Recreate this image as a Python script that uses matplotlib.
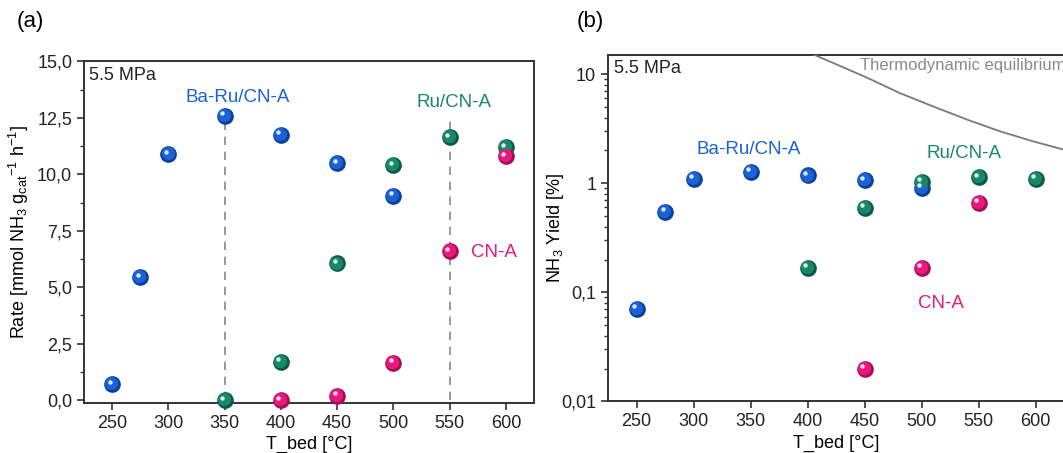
import matplotlib
matplotlib.use('Agg')
import matplotlib.pyplot as plt
import matplotlib.transforms as mtransforms
from matplotlib.ticker import MultipleLocator, FuncFormatter, LogLocator, FixedLocator

plt.rcParams['font.family'] = ['Liberation Sans', 'DejaVu Sans']
plt.rcParams['mathtext.fontset'] = 'custom'
plt.rcParams['mathtext.rm'] = 'Liberation Sans'
plt.rcParams['mathtext.it'] = 'Liberation Sans'

# (a) rate, mmol NH3 / g_cat / h
T_baru = [250, 275, 300, 350, 400, 450, 500]
rate_baru = [0.7, 5.45, 10.9, 12.6, 11.75, 10.5, 9.05]
T_ru = [350, 400, 450, 500, 550, 600]
rate_ru = [0.0, 1.7, 6.05, 10.4, 11.65, 11.2]
T_cn = [400, 450, 500, 550, 600]
rate_cn = [0.0, 0.2, 1.65, 6.6, 10.8]

# (b) NH3 yield, %
yT_baru = [250, 275, 300, 350, 400, 450, 500]
yield_baru = [0.071, 0.55, 1.10, 1.27, 1.18, 1.07, 0.91]
yT_ru = [400, 450, 500, 550, 600]
yield_ru = [0.168, 0.594, 1.03, 1.14, 1.10]
yT_cn = [450, 500, 550]
yield_cn = [0.020, 0.168, 0.665]

# thermodynamic equilibrium curve
T_eq = [400, 410, 423, 452, 481, 510, 540, 569, 598, 625]
yield_eq = [16.0, 14.4, 12.6, 9.3, 6.7, 5.07, 3.83, 2.99, 2.42, 2.03]

BLUE = '#1a62d6'
GREEN = '#17896a'
PINK = '#e8187c'
AX_COL = '#333333'

fig = plt.figure(figsize=(10.63, 4.53), dpi=100)
ax1 = fig.add_axes([0.079, 0.1104, 0.4233, 0.7539])
ax2 = fig.add_axes([0.572, 0.1137, 0.429, 0.765])


def balls(ax, x, y, col, dark):
    # shaded "sphere" markers
    ax.plot(x, y, 'o', ms=12, mfc=dark, mec='none', zorder=5, clip_on=False)
    off = mtransforms.ScaledTranslation(-0.6 / 72, 0.6 / 72, fig.dpi_scale_trans)
    ax.plot(x, y, 'o', ms=9.5, mfc=col, mec='none', zorder=6, clip_on=False,
            transform=ax.transData + off)
    off2 = mtransforms.ScaledTranslation(-1.8 / 72, 1.8 / 72, fig.dpi_scale_trans)
    ax.plot(x, y, 'o', ms=3.2, mfc='white', mec='none', alpha=0.85, zorder=7,
            clip_on=False, transform=ax.transData + off2)


def style(ax):
    for s in ax.spines.values():
        s.set_color(AX_COL)
        s.set_linewidth(1.4)
    ax.tick_params(axis='both', which='both', direction='out', colors=AX_COL,
                   labelcolor='#222222', labelsize=13, top=False, right=False)
    ax.tick_params(which='major', length=5, width=1.2)
    ax.tick_params(which='minor', length=3, width=1.0)
    ax.set_xlim(225, 625)
    ax.xaxis.set_major_locator(FixedLocator([250, 300, 350, 400, 450, 500, 550, 600]))
    ax.set_xlabel('T_bed [°C]', fontsize=13, labelpad=3)


# ---- (a)
style(ax1)
ax1.set_ylim(-0.13, 15)
ax1.yaxis.set_major_locator(MultipleLocator(2.5))
ax1.yaxis.set_minor_locator(MultipleLocator(1.25))
ax1.yaxis.set_major_formatter(FuncFormatter(lambda v, p: ('%.1f' % v).replace('.', ',')))
ax1.set_ylabel('Rate [mmol NH$_3$ g$_{cat}$$^{-1}$ h$^{-1}$]', fontsize=13)
ax1.yaxis.set_label_coords(-0.118, 0.5)

ax1.plot([350, 350], [0, 12.6], ls=(0, (5, 4)), color='#888888', lw=1.2, zorder=2)
ax1.plot([550, 550], [0, 12.5], ls=(0, (5, 4)), color='#888888', lw=1.2, zorder=2)

balls(ax1, T_baru, rate_baru, BLUE, '#0b3f9c')
balls(ax1, T_ru, rate_ru, GREEN, '#0b5a44')
balls(ax1, T_cn, rate_cn, PINK, '#a80d58')

ax1.text(0.012, 0.985, '5.5 MPa', transform=ax1.transAxes, ha='left', va='top',
         fontsize=13, color='#222222')
ax1.text(362, 13.4, 'Ba-Ru/CN-A', color=BLUE, fontsize=13.5, ha='center', va='center')
ax1.text(554, 13.2, 'Ru/CN-A', color=GREEN, fontsize=13.5, ha='center', va='center')
ax1.text(589, 6.55, 'CN-A', color=PINK, fontsize=13.5, ha='center', va='center')

# ---- (b)
style(ax2)
ax2.set_yscale('log')
ax2.set_ylim(0.01, 15)
ax2.yaxis.set_major_locator(FixedLocator([0.01, 0.1, 1, 10]))
ax2.yaxis.set_minor_locator(LogLocator(base=10, subs=range(2, 10)))
ax2.yaxis.set_major_formatter(FuncFormatter(
    lambda v, p: {0.01: '0,01', 0.1: '0,1', 1: '1', 10: '10'}.get(round(v, 2), '')))
ax2.yaxis.set_minor_formatter(FuncFormatter(lambda v, p: ''))
ax2.set_ylabel('NH$_3$ Yield [%]', fontsize=13)
ax2.yaxis.set_label_coords(-0.092, 0.5)

ax2.plot(T_eq, yield_eq, color='#7a7a7a', lw=1.3, zorder=3)
ax2.text(446, 11.9, 'Thermodynamic equilibrium', color='#8a8a8a', fontsize=12,
         ha='left', va='center', clip_on=False)

balls(ax2, yT_baru, yield_baru, BLUE, '#0b3f9c')
balls(ax2, yT_ru, yield_ru, GREEN, '#0b5a44')
balls(ax2, yT_cn, yield_cn, PINK, '#a80d58')

ax2.text(0.012, 0.985, '5.5 MPa', transform=ax2.transAxes, ha='left', va='top',
         fontsize=13, color='#222222')
ax2.text(348, 2.02, 'Ba-Ru/CN-A', color=BLUE, fontsize=13.5, ha='center', va='center')
ax2.text(537, 1.87, 'Ru/CN-A', color=GREEN, fontsize=13.5, ha='center', va='center')
ax2.text(517, 0.0795, 'CN-A', color=PINK, fontsize=13.5, ha='center', va='center')

fig.text(30 / 1063, 1 - 22 / 453, '(a)', fontsize=16, ha='center', va='center')
fig.text(590 / 1063, 1 - 22 / 453, '(b)', fontsize=16, ha='center', va='center')

fig.savefig('out.png', dpi=100)
